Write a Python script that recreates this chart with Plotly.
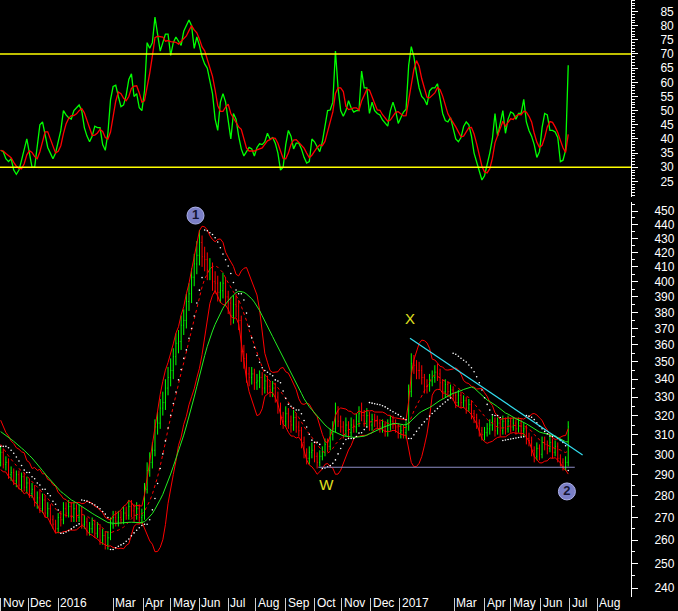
import math
import pandas as pd
import plotly.graph_objects as go
from plotly.subplots import make_subplots

# ---------------- data (one bar = 2 trading days) ----------------
start_date = "2015-11-02"
n_bars = 218
dates = pd.bdate_range(start=start_date, periods=n_bars, freq="2B")

# closes before the visible window (estimated from the indicator levels at the left edge)
prior_closes = [314, 318, 316, 320, 317, 313, 315, 319, 316, 312, 314, 317, 315,
                313, 316, 318, 316, 313, 310, 308, 305, 303, 300, 298, 296]

closes = [
    301, 295, 296, 290, 291, 287, 290, 285, 289, 284,
    286, 281, 283, 277, 279, 274, 278, 272, 274, 269,
    267, 265, 270, 269, 274, 272, 275, 270, 274, 270,
    273, 267, 268, 264, 265, 267, 263, 265, 260, 262,
    258, 261, 267, 270, 268, 270, 269, 272, 271, 275,
    273, 271, 274, 270, 271, 283, 292, 296, 302, 314,
    316, 324, 327, 335, 341, 345, 353, 361, 362, 372,
    375, 387, 392, 403, 412, 418, 427, 417, 415, 408,
    409, 400, 399, 393, 394, 399, 390, 386, 378, 385,
    384, 375, 356, 352, 343, 341, 343, 338, 339, 341,
    335, 339, 336, 334, 335, 330, 325, 319, 317, 321,
    317, 315, 319, 314, 312, 306, 301, 298, 301, 302,
    299, 296, 299, 301, 305, 304, 310, 313, 322, 317,
    314, 312, 315, 311, 315, 314, 317, 321, 320, 317,
    320, 315, 318, 317, 316, 314, 315, 312, 315, 317,
    316, 314, 311, 312, 311, 314, 333, 349, 348, 345,
    345, 341, 336, 336, 339, 341, 344, 343, 338, 333,
    337, 333, 334, 331, 327, 331, 327, 328, 324, 326,
    321, 319, 316, 312, 310, 311, 313, 315, 317, 312,
    316, 312, 317, 313, 317, 314, 316, 313, 316, 312,
    313, 308, 307, 302, 299, 303, 300, 306, 305, 303,
    306, 301, 304, 298, 296, 294, 296, 314,
]
highs = [
    304, 303, 299, 298, 294, 293, 292, 292, 291, 291,
    289, 288, 286, 285, 282, 283, 281, 280, 277, 276,
    271, 269, 272, 273, 277, 277, 278, 277, 277, 276,
    276, 275, 271, 270, 268, 270, 269, 268, 267, 265,
    264, 264, 270, 273, 273, 273, 273, 275, 275, 278,
    278, 276, 277, 276, 274, 286, 296, 301, 306, 318,
    322, 329, 333, 340, 347, 352, 358, 367, 369, 378,
    382, 392, 399, 409, 419, 428, 436, 432, 424, 420,
    416, 413, 407, 404, 400, 406, 403, 394, 390, 391,
    392, 388, 378, 360, 355, 347, 347, 346, 343, 345,
    344, 343, 342, 339, 339, 338, 333, 327, 322, 325,
    324, 320, 323, 321, 317, 314, 309, 303, 304, 306,
    305, 301, 302, 304, 308, 308, 313, 317, 327, 325,
    320, 317, 319, 317, 319, 318, 321, 325, 327, 323,
    324, 322, 321, 321, 320, 318, 318, 317, 318, 320,
    320, 318, 316, 315, 315, 317, 337, 355, 354, 351,
    350, 348, 343, 340, 343, 345, 348, 349, 346, 340,
    340, 339, 337, 336, 333, 334, 333, 331, 330, 329,
    328, 323, 321, 318, 314, 314, 316, 318, 320, 319,
    319, 318, 320, 319, 320, 319, 319, 318, 319, 318,
    316, 315, 311, 309, 304, 306, 305, 309, 309, 307,
    309, 308, 307, 306, 300, 298, 299, 317,
]
lows = [
    294, 293, 292, 288, 287, 285, 284, 283, 282, 282,
    281, 279, 279, 275, 274, 272, 272, 270, 270, 267,
    265, 263, 263, 266, 267, 270, 270, 268, 268, 268,
    268, 265, 265, 262, 262, 263, 261, 261, 258, 258,
    256, 256, 260, 265, 266, 266, 267, 267, 269, 269,
    270, 268, 269, 267, 267, 269, 281, 289, 293, 299,
    310, 313, 320, 323, 331, 336, 340, 348, 355, 357,
    366, 370, 381, 386, 397, 405, 411, 410, 407, 401,
    401, 394, 392, 387, 386, 389, 384, 379, 372, 373,
    377, 369, 350, 346, 338, 336, 337, 334, 334, 335,
    331, 332, 332, 330, 330, 327, 321, 315, 313, 314,
    313, 311, 312, 311, 309, 303, 298, 295, 295, 298,
    296, 293, 294, 297, 299, 301, 302, 307, 311, 314,
    311, 308, 309, 308, 309, 311, 311, 314, 317, 314,
    314, 312, 312, 314, 313, 311, 311, 309, 309, 312,
    313, 311, 308, 308, 308, 308, 312, 330, 343, 340,
    340, 337, 332, 332, 333, 336, 338, 339, 334, 329,
    330, 330, 330, 328, 324, 325, 324, 324, 321, 322,
    318, 316, 313, 309, 307, 307, 309, 310, 312, 309,
    310, 309, 310, 310, 311, 311, 312, 310, 311, 309,
    309, 305, 304, 299, 296, 297, 297, 298, 302, 300,
    301, 298, 299, 296, 294, 292, 292, 294,
]
rsi = [
    36, 35.5, 33, 32, 33, 29, 27.5, 29, 32.5, 36,
    40, 35, 30, 30, 37, 45, 46, 42, 37, 35,
    33, 35, 39.5, 43, 50, 48.5, 47.5, 47, 50, 51,
    52, 50, 44, 41, 39, 41, 44.5, 44, 44, 38,
    36, 42, 53.8, 58.5, 59, 55, 51.4, 52, 55.5, 61,
    63, 55, 56, 51, 50, 57, 74, 72, 74, 83,
    76, 71, 74, 77, 77, 69.5, 74, 76, 74.5, 73,
    78, 80, 82, 80, 72, 76, 73, 69, 66.5, 65,
    61, 56, 47, 43, 53, 56, 53, 47, 40, 49,
    47, 41, 36.5, 34, 35.5, 37, 36.5, 34, 37, 38.3,
    38, 39, 42, 40, 40.5, 38.5, 35, 29, 30, 38,
    43, 41, 36.5, 38.5, 38.5, 36.5, 33.5, 31.5, 32, 40,
    39, 37, 35.5, 39, 45, 50, 50.2, 53, 71, 58,
    50, 48, 50, 53.5, 51, 49.5, 50, 50, 64, 58,
    58, 49, 53, 50, 49, 48.5, 46.7, 45.5, 44.5, 50,
    53, 50, 45.5, 47.5, 49.5, 50.5, 66, 72.6, 69, 63,
    58, 55, 54, 52, 57, 58, 58, 59.5, 54, 49,
    46.5, 46, 47.5, 43.5, 40, 39, 40.5, 44.4, 46, 45,
    41, 35, 32, 29, 25.5, 27, 30.5, 35, 40, 49,
    41, 45, 50, 42, 47, 49.5, 49, 47, 49, 49,
    54, 46, 43, 41, 38, 33.5, 35.5, 44, 49, 48.5,
    43, 43, 42.5, 40.5, 32, 32.5, 36, 66,
]

rsi_levels = [70, 30]
rsi_ticks = list(range(25, 90, 5))
price_ticks = list(range(240, 460, 10))
price_minor = list(range(235, 460, 10))

support_dates = ["2016-10-06", "2017-07-07"]
support_level = 293.6
trend_dates = ["2017-01-12", "2017-07-17"]
trend_prices = [364, 299.7]

wave_circles = [("2016-05-27", 446.6, "1"), ("2017-06-29", 282.0, "2")]
wave_letters = [("2017-01-12", 375.0, "X"), ("2016-10-14", 284.3, "W")]

month_dates = ["2015-11-02", "2015-12-01", "2016-01-01", "2016-03-01", "2016-04-01",
               "2016-05-02", "2016-06-01", "2016-07-01", "2016-08-01", "2016-09-01",
               "2016-10-03", "2016-11-01", "2016-12-01", "2017-01-02", "2017-03-01",
               "2017-04-03", "2017-05-01", "2017-06-01", "2017-07-03", "2017-08-01"]
month_labels = ["Nov", "Dec", "2016", "Mar", "Apr", "May", "Jun", "Jul", "Aug", "Sep",
                "Oct", "Nov", "Dec", "2017", "Mar", "Apr", "May", "Jun", "Jul", "Aug"]

# ---------------- indicators ----------------
assert len(closes) == n_bars and len(highs) == n_bars and len(lows) == n_bars and len(rsi) == n_bars
opens = [prior_closes[-1]] + closes[:-1]
full = pd.Series(prior_closes + closes, dtype=float)
k = len(prior_closes)
bb_mid = full.rolling(10).mean().iloc[k:].values
bb_sd = full.rolling(10).std(ddof=0).iloc[k:].values
bb_up = bb_mid + 2 * bb_sd
bb_lo = bb_mid - 2 * bb_sd
ma_long = full.rolling(25).mean().iloc[k:].values
rsi_sig = pd.Series(rsi).rolling(4, min_periods=1).mean().values


def psar(high, low, step=0.02, amax=0.2):
    n = len(high)
    out = [float("nan")] * n
    bull = False
    af = step
    ep = low[0]
    out[0] = high[0]
    for i in range(1, n):
        s = out[i - 1] + af * (ep - out[i - 1])
        if bull:
            s = min(s, low[i - 1], low[max(i - 2, 0)])
            if low[i] < s:
                bull, s, ep, af = False, ep, low[i], step
            elif high[i] > ep:
                ep, af = high[i], min(af + step, amax)
        else:
            s = max(s, high[i - 1], high[max(i - 2, 0)])
            if high[i] > s:
                bull, s, ep, af = True, ep, high[i], step
            elif low[i] < ep:
                ep, af = low[i], min(af + step, amax)
        out[i] = s
    return out


sar = psar(highs, lows)

# ---------------- figure ----------------
fig = make_subplots(rows=2, cols=1, shared_xaxes=True, vertical_spacing=0.01)

fig.add_trace(go.Scatter(x=dates, y=rsi, mode="lines", line=dict(color="#00ff00", width=1.3)), row=1, col=1)
fig.add_trace(go.Scatter(x=dates, y=rsi_sig, mode="lines", line=dict(color="#ff0000", width=1.3)), row=1, col=1)
for lvl in rsi_levels:
    fig.add_hline(y=lvl, line=dict(color="#ffff00", width=1.5), row=1, col=1)

fig.add_trace(go.Ohlc(x=dates, open=opens, high=highs, low=lows, close=closes,
                      increasing=dict(line=dict(color="#00ff00", width=1)),
                      decreasing=dict(line=dict(color="#ff0000", width=1)),
                      tickwidth=0.25), row=2, col=1)
fig.add_trace(go.Scatter(x=dates, y=bb_up, mode="lines", line=dict(color="#ff0000", width=1)), row=2, col=1)
fig.add_trace(go.Scatter(x=dates, y=bb_lo, mode="lines", line=dict(color="#ff0000", width=1)), row=2, col=1)
fig.add_trace(go.Scatter(x=dates, y=bb_mid, mode="lines", line=dict(color="#ff0000", width=1, dash="3px,3px")), row=2, col=1)
fig.add_trace(go.Scatter(x=dates, y=ma_long, mode="lines", line=dict(color="#22ee22", width=1)), row=2, col=1)
fig.add_trace(go.Scatter(x=dates, y=sar, mode="markers", marker=dict(color="white", size=1.6)), row=2, col=1)

fig.add_trace(go.Scatter(x=support_dates, y=[support_level, support_level], mode="lines",
                         line=dict(color="#8c8cc4", width=1.2)), row=2, col=1)
fig.add_trace(go.Scatter(x=trend_dates, y=trend_prices, mode="lines",
                         line=dict(color="#33ddee", width=1.2)), row=2, col=1)

fig.add_trace(go.Scatter(x=[c[0] for c in wave_circles], y=[c[1] for c in wave_circles],
                         mode="markers+text", text=["<b>%s</b>" % c[2] for c in wave_circles],
                         textposition="middle center",
                         textfont=dict(family="Liberation Sans, Arial", size=13, color="#141432"),
                         marker=dict(size=17, color="#7b7fc6", line=dict(color="#aeb2ea", width=1))),
              row=2, col=1)
fig.add_trace(go.Scatter(x=[c[0] for c in wave_letters], y=[c[1] for c in wave_letters],
                         mode="text", text=[c[2] for c in wave_letters], textposition="middle center",
                         textfont=dict(family="Liberation Sans, Arial", size=15, color="#e0e020")),
              row=2, col=1)

xrange = ["2015-10-30 12:00", "2017-09-06"]
rb = [dict(bounds=["sat", "mon"])]
fig.update_xaxes(range=xrange, rangebreaks=rb, showgrid=False, zeroline=False,
                 rangeslider_visible=False, showline=False)
fig.update_xaxes(showticklabels=False, ticks="", row=1, col=1)
fig.update_xaxes(tickvals=month_dates, ticks="outside", ticklen=14, tickcolor="#d0d0d0",
                 tickwidth=1, showticklabels=False, row=2, col=1)

axis_common = dict(side="right", showline=True, linecolor="white", linewidth=1, ticks="outside",
                   ticklen=6, tickcolor="white", showgrid=False, zeroline=False,
                   tickfont=dict(family="Liberation Sans, Arial", size=12, color="white"))
fig.update_yaxes(domain=[0.670, 1.0], range=[19.5, 89.06], tickvals=rsi_ticks,
                 minor=dict(dtick=1, tick0=0, ticks="outside", ticklen=3, tickcolor="white"),
                 ticklabelstandoff=20, **axis_common, row=1, col=1)
fig.update_yaxes(type="log", domain=[0.0, 0.6616], range=[math.log10(236.5), math.log10(456.8)],
                 tickvals=price_ticks,
                 minor=dict(tickvals=price_minor, ticks="outside", ticklen=3, tickcolor="white"),
                 ticklabelstandoff=14, **axis_common, row=2, col=1)

for d, lab in zip(month_dates, month_labels):
    fig.add_annotation(x=d, xref="x2", y=0, yref="paper", yanchor="top", xanchor="left",
                       text=lab, showarrow=False, xshift=1, yshift=2, borderpad=0,
                       font=dict(family="Liberation Sans, Arial", size=12, color="white"))

fig.update_layout(width=678, height=611, margin=dict(l=0, r=47, t=0, b=14, autoexpand=False),
                  paper_bgcolor="black", plot_bgcolor="black", showlegend=False,
                  font=dict(family="Liberation Sans, Arial", color="white", size=12))

fig.write_html("out.html", config={"displayModeBar": False},
               post_script="document.body.style.margin='0';document.body.style.background='black';")
